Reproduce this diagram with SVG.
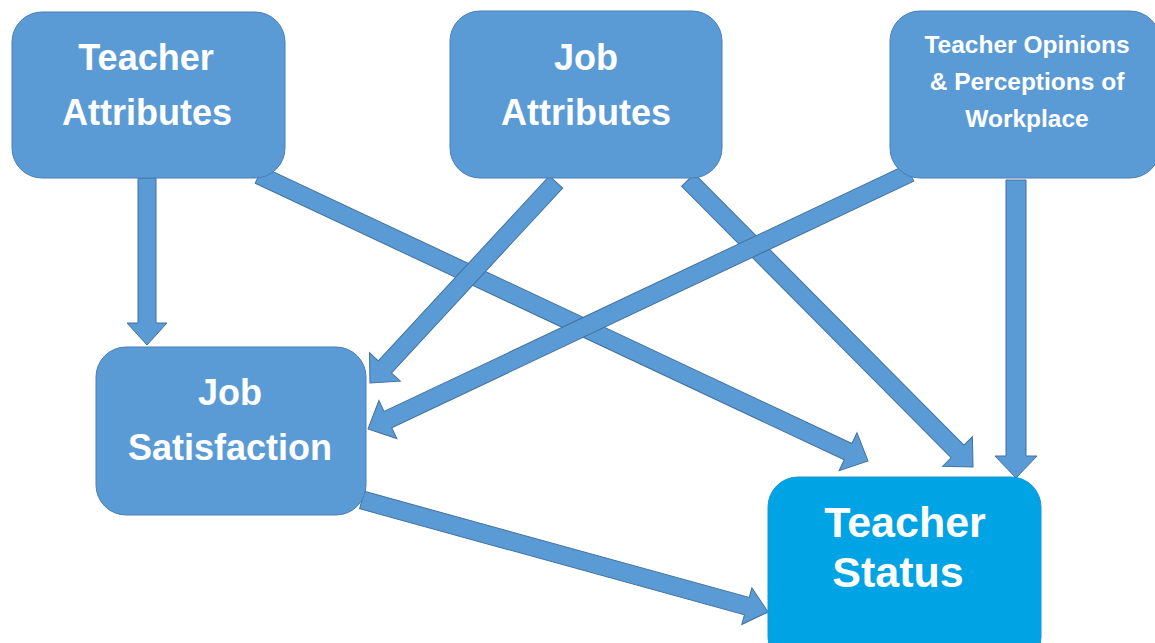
<svg xmlns="http://www.w3.org/2000/svg" width="1155" height="643" viewBox="0 0 1155 643">
<style>
.node{fill:#5B9BD5;stroke:#4A7EB5;stroke-width:1}
.status{fill:#00A3E4;stroke:#1B95CF;stroke-width:1}
.arrow{fill:#5B9BD5;stroke:#41719C;stroke-width:1}
text{font-family:"Liberation Sans",Arial,sans-serif;font-weight:bold;fill:#FFFFFF;text-anchor:middle}
.big{font-size:36px}
.small{font-size:24.5px}
.huge{font-size:43px}
</style>
<rect width="1155" height="643" fill="#FFFFFF"/>
<g id="connectors">
  <path class="arrow" transform="translate(147,178) rotate(90)" d="M0,-9 L145,-9 L145,-20 L167,0 L145,20 L145,9 L0,9 Z"/>
  <path class="arrow" transform="translate(259,175) rotate(25.16)" d="M0,-9 L650.8,-9 L650.8,-21 L672.8,0 L650.8,21 L650.8,9 L0,9 Z"/>
  <path class="arrow" transform="translate(556,182) rotate(132.78)" d="M0,-9 L251.9,-9 L251.9,-21 L273.9,0 L251.9,21 L251.9,9 L0,9 Z"/>
  <path class="arrow" transform="translate(688,180) rotate(45.2)" d="M0,-9 L382.5,-9 L382.5,-21 L404.5,0 L382.5,21 L382.5,9 L0,9 Z"/>
  <path class="arrow" transform="translate(910,173) rotate(154.72)" d="M0,-9 L577.4,-9 L577.4,-21 L599.4,0 L577.4,21 L577.4,9 L0,9 Z"/>
  <path class="arrow" transform="translate(1016,180) rotate(90)" d="M0,-10 L276,-10 L276,-21 L298,0 L276,21 L276,10 L0,10 Z"/>
  <path class="arrow" transform="translate(362,500) rotate(15.42)" d="M0,-9 L399.2,-9 L399.2,-19 L421.2,0 L399.2,19 L399.2,9 L0,9 Z"/>
</g>
<g id="teacher-attributes">
  <rect class="node" x="12" y="12" width="273" height="166" rx="30"/>
  <text class="big" x="146" y="70">Teacher</text>
  <text class="big" x="147" y="125">Attributes</text>
</g>
<g id="job-attributes">
  <rect class="node" x="450" y="11" width="272" height="167" rx="30"/>
  <text class="big" x="586" y="70">Job</text>
  <text class="big" x="586" y="125">Attributes</text>
</g>
<g id="teacher-opinions">
  <rect class="node" x="890" y="11" width="270" height="167" rx="30"/>
  <text class="small" x="1027" y="53">Teacher Opinions</text>
  <text class="small" x="1027" y="90">&amp; Perceptions of</text>
  <text class="small" x="1027" y="127">Workplace</text>
</g>
<g id="job-satisfaction">
  <rect class="node" x="96" y="347" width="270" height="168" rx="30"/>
  <text class="big" x="230" y="405">Job</text>
  <text class="big" x="230" y="460">Satisfaction</text>
</g>
<g id="teacher-status">
  <rect class="status" x="768" y="477" width="273" height="190" rx="30"/>
  <text class="huge" x="905" y="537">Teacher</text>
  <text class="huge" x="898" y="587">Status</text>
</g>
</svg>
